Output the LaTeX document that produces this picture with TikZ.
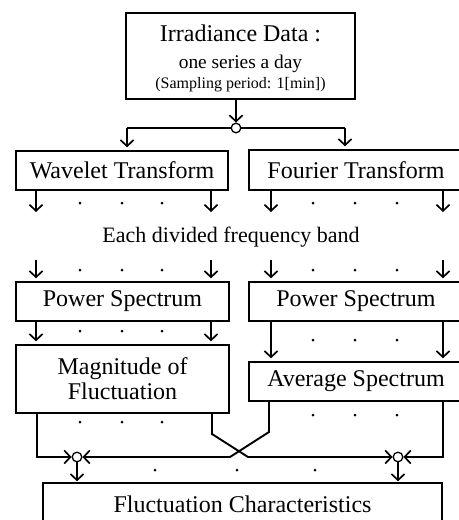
\documentclass[tikz,border=0pt]{standalone}
\usepackage{fontspec}
\setmainfont{Liberation Serif}
\usetikzlibrary{arrows.meta}

\tikzset{
  box/.style={draw, line width=0.7pt, inner sep=0pt, font=\fontsize{12}{14}\selectfont},
  link/.style={line width=0.95pt},
  arr/.style={link, -{Straight Barb[length=3.1pt,width=6.6pt,line width=0.85pt]}},
  joint/.style={circle, draw, fill=white, line width=0.65pt, minimum size=4.8pt, inner sep=0pt},
  dot/.style={circle, fill=black, minimum size=1.5pt, inner sep=0pt},
}

\begin{document}
\begin{tikzpicture}[x=0.5pt, y=-0.5pt]
\useasboundingbox (0,0) rectangle (459,520);
\clip (0,0) rectangle (459,520);

% boxes
\node[box, minimum width=114.5pt, minimum height=43pt] (data) at (240.5,56) {};
\node[font=\fontsize{12}{14}\selectfont] (t1) at (240.5,33) {Irradiance Data :};
\node[font=\fontsize{9.7}{11}\selectfont] (t2) at (240.5,64) {one series a day};
\node[font=\fontsize{8}{10}\selectfont] (t3) at (240.5,85) {(Sampling period: 1[min])};

\node[box, minimum width=106pt, minimum height=19.5pt] (wav) at (122,170.5) {Wavelet Transform};
\node[box, minimum width=107pt, minimum height=20pt] (fou) at (356,170) {Fourier Transform};
\node[font=\fontsize{11}{13}\selectfont] (band) at (231,237) {Each divided frequency band};
\node[box, minimum width=106.5pt, minimum height=19.5pt] (psl) at (122.5,301.5) {Power Spectrum};
\node[box, minimum width=107pt, minimum height=19.5pt] (psr) at (356,301.5) {Power Spectrum};
\node[box, minimum width=106.5pt, minimum height=34pt, align=center,
      font=\fontsize{12}{12.5}\selectfont] (mag) at (122.5,379) {Magnitude of\\Fluctuation};
\node[box, minimum width=107pt, minimum height=19.5pt] (avg) at (356,381.5) {Average Spectrum};
\node[box, minimum width=199.5pt, minimum height=24pt] (fc) at (242.5,507) {};
\node[font=\fontsize{12}{14}\selectfont] (fct) at (242.5,504) {Fluctuation Characteristics};

% split below the data box
\node[joint] (c0) at (236,128) {};
\coordinate (sl) at (127,128);
\coordinate (sr) at (345,128);
\draw[arr] (data.south -| c0) -- (c0.north);
\draw[link] (c0.west) -- (sl);
\draw[link] (c0.east) -- (sr);
\draw[arr, shorten >=1.5pt] (sl) -- (wav.north -| sl);
\draw[arr, shorten >=1.5pt] (sr) -- (fou.north -| sr);

% outputs of the transforms
\foreach \x in {36,211} {
  \coordinate (w\x) at (\x,212);
  \draw[arr] (wav.south -| w\x) -- (w\x);
  \coordinate (p\x) at (\x,260);
  \draw[arr, shorten >=1.5pt] (p\x) -- (psl.north -| p\x);
  \draw[arr, shorten >=1.5pt] (psl.south -| p\x) -- (mag.north -| p\x);
}
\foreach \x in {271,443} {
  \coordinate (f\x) at (\x,212);
  \draw[arr] (fou.south -| f\x) -- (f\x);
  \coordinate (q\x) at (\x,260);
  \draw[arr, shorten >=1.5pt] (q\x) -- (psr.north -| q\x);
  \draw[arr, shorten >=1.5pt] (psr.south -| q\x) -- (avg.north -| q\x);
}

% dots between the band arrows
\foreach \x in {80,122,162} {
  \node[dot] at (\x,203) {};
  \node[dot] at (\x,270) {};
  \node[dot] at (\x,331) {};
  \node[dot] at (\x,422) {};
}
\foreach \x in {313,355,397} {
  \node[dot] at (\x,203) {};
  \node[dot] at (\x,270) {};
  \node[dot] at (\x,340) {};
  \node[dot] at (\x,415) {};
}
\foreach \x in {155,237,315} {
  \node[dot] at (\x,470) {};
}

% merging into the characteristics box
\node[joint] (c1) at (77,457) {};
\node[joint] (c2) at (398,457) {};
\coordinate (ma) at (37,413);
\coordinate (mb) at (212,413);
\coordinate (aa) at (269,401);
\coordinate (ab) at (443,401);
\draw[arr] (mag.south -| ma) |- (c1.west);
\draw[arr] (mag.south -| mb) -- (212,434) -- (248,457) -- (c2.west);
\draw[arr] (avg.south -| aa) -- (269,432) -- (230,457) -- (c1.east);
\draw[arr] (avg.south -| ab) |- (c2.east);
\draw[arr, shorten >=0.5pt] (c1.south) -- (fc.north -| c1);
\draw[arr, shorten >=0.5pt] (c2.south) -- (fc.north -| c2);
\end{tikzpicture}
\end{document}
